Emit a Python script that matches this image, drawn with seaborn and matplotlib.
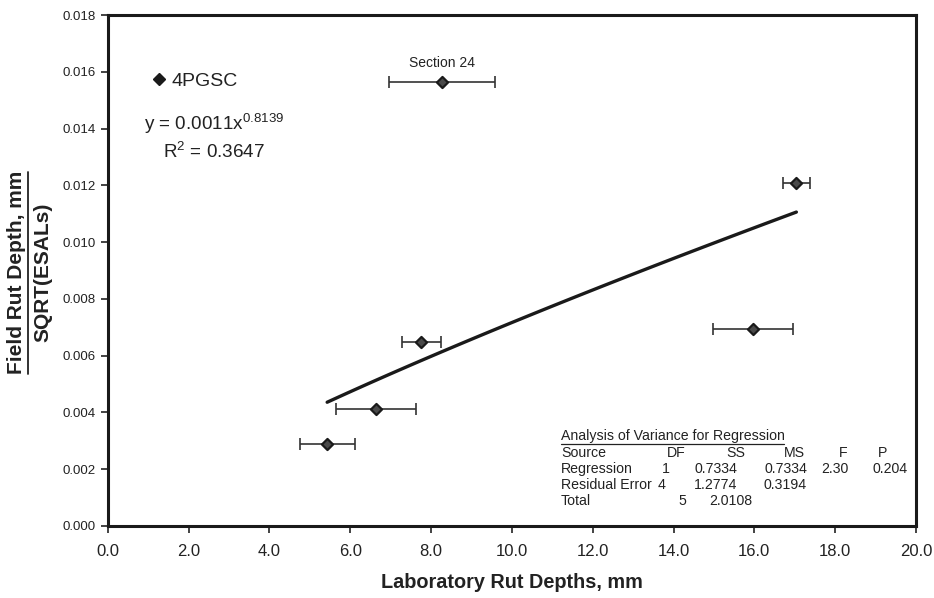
import numpy as np
import pandas as pd
import matplotlib
matplotlib.use("Agg")
import matplotlib.pyplot as plt
import seaborn as sns
from matplotlib.lines import Line2D

# ---- data ----
lab_rut = [5.43, 6.63, 7.76, 8.28, 15.97, 17.04]
field_rate = [0.00288, 0.00411, 0.00647, 0.01565, 0.00694, 0.01208]
err_low = [4.75, 5.65, 7.29, 6.96, 14.98, 16.71]
err_high = [6.11, 7.64, 8.24, 9.59, 16.95, 17.37]
fit_coef = [0.0011, 0.8139]
r_squared = 0.3647
x_ticks = [0, 2, 4, 6, 8, 10, 12, 14, 16, 18, 20]
y_ticks = [0.000, 0.002, 0.004, 0.006, 0.008, 0.010, 0.012, 0.014, 0.016, 0.018]
anova_header = ["Source", "DF", "SS", "MS", "F", "P"]
anova_rows = [
    ["Regression", "1", "0.7334", "0.7334", "2.30", "0.204"],
    ["Residual Error", "4", "1.2774", "0.3194", "", ""],
    ["Total", "5", "2.0108", "", "", ""],
]

sns.set_style("ticks")
plt.rcParams["font.family"] = ["Liberation Sans", "DejaVu Sans"]
plt.rcParams["mathtext.fontset"] = "custom"
plt.rcParams["mathtext.rm"] = "Liberation Sans"
plt.rcParams["mathtext.it"] = "Liberation Sans"

W, H = 934, 598
fig = plt.figure(figsize=(W / 100, H / 100), dpi=100)
ax = fig.add_axes([107.7 / W, 1 - 526 / H, (916 - 107.7) / W, (526 - 15) / H])

df = pd.DataFrame({"lab": lab_rut, "field": field_rate})
xerr = np.array([np.array(lab_rut) - np.array(err_low), np.array(err_high) - np.array(lab_rut)])

ax.errorbar(df["lab"], df["field"], xerr=xerr, fmt="none", ecolor="#333333",
            elinewidth=1.2, capsize=4, capthick=1.2, zorder=2)

# trend line from the chart's power-law equation
xt = np.linspace(min(lab_rut), max(lab_rut), 100)
trend = pd.DataFrame({"x": xt, "y": fit_coef[0] * xt ** fit_coef[1]})
sns.lineplot(data=trend, x="x", y="y", ax=ax, color="#1a1a1a", linewidth=2.4, zorder=3)

sns.scatterplot(data=df, x="lab", y="field", ax=ax, marker="D", s=32,
                color="#4a4a4a", edgecolor="#1a1a1a", linewidth=1.6, zorder=4)

ax.set_xlim(0, 20)
ax.set_ylim(0, 0.018)
ax.set_xticks(x_ticks)
ax.set_xticklabels([f"{v:.1f}" for v in x_ticks], fontsize=12, color="#222222")
ax.set_yticks(y_ticks)
ax.set_yticklabels([f"{v:.3f}" for v in y_ticks], fontsize=9.5, color="#222222")
ax.tick_params(axis="both", direction="out", length=5, width=1.2, color="#222222")
ax.tick_params(axis="x", pad=8)
for sp in ax.spines.values():
    sp.set_visible(True)
    sp.set_linewidth(2.2)
    sp.set_color("#1a1a1a")

ax.set_xlabel("Laboratory Rut Depths, mm", fontsize=14.3, fontweight="bold", labelpad=10, color="#222222")
ax.set_ylabel("")

# y label as a fraction
fig.text(17 / W, 1 - 272 / H, "Field Rut Depth, mm", rotation=90, ha="center", va="center",
         fontsize=15, fontweight="bold", color="#222222")
fig.text(43 / W, 1 - 272 / H, "SQRT(ESALs)", rotation=90, ha="center", va="center",
         fontsize=15, fontweight="bold", color="#222222")
fig.add_artist(Line2D([27.5 / W, 27.5 / W], [1 - 374 / H, 1 - 172 / H], color="#222222",
                      linewidth=1.3, transform=fig.transFigure))

# legend
leg = ax.legend(handles=[Line2D([], [], marker="D", ls="none", color="#1a1a1a", markersize=6,
                                label="4PGSC")],
                loc="center left", bbox_to_anchor=((140 - 107.7) / (916 - 107.7), (526 - 81) / 511),
                frameon=False, fontsize=14, handletextpad=0.1, handlelength=1.0, borderpad=0)
for t in leg.get_texts():
    t.set_color("#222222")

# equation
fig.text(214 / W, 1 - 124 / H, r"y = 0.0011x$^{\mathrm{" + f"{fit_coef[1]}" + r"}}$", ha="center",
         va="center", fontsize=13.6, color="#222222")
fig.text(214 / W, 1 - 152 / H, r"R$^{\mathrm{2}}$ = " + f"{r_squared}", ha="center",
         va="center", fontsize=13.6, color="#222222")

# section annotation
ax.annotate("Section 24", xy=(lab_rut[3], field_rate[3]), xytext=(0, 13.5), textcoords="offset points",
            ha="center", va="center", fontsize=10, color="#222222")

# ANOVA table
fs = 10.2
col = "#222222"
fig.text(561 / W, 1 - 436 / H, "Analysis of Variance for Regression", ha="left", va="center",
         fontsize=fs, color=col)
fig.add_artist(Line2D([561 / W, 784 / W], [1 - 443.5 / H, 1 - 443.5 / H], color=col, linewidth=0.9,
                      transform=fig.transFigure))
row_y = [453, 469, 485, 501]
hdr_pos = [(561, "left"), (686, "right"), (745, "right"), (805, "right"), (847, "right"), (887, "right")]
cell_pos = [
    [(561, "left"), (670, "right"), (737, "right"), (807, "right"), (848, "right"), (908, "right")],
    [(561, "left"), (666, "right"), (737, "right"), (807, "right"), (848, "right"), (908, "right")],
    [(561, "left"), (686, "right"), (752, "right"), (807, "right"), (848, "right"), (908, "right")],
]
for j, txt in enumerate(anova_header):
    x, ha = hdr_pos[j]
    fig.text(x / W, 1 - row_y[0] / H, txt, ha=ha, va="center", fontsize=fs, color=col)
for i, row in enumerate(anova_rows):
    for j, txt in enumerate(row):
        x, ha = cell_pos[i][j]
        fig.text(x / W, 1 - row_y[i + 1] / H, txt, ha=ha, va="center", fontsize=fs, color=col)

fig.savefig("out.png", dpi=100)
